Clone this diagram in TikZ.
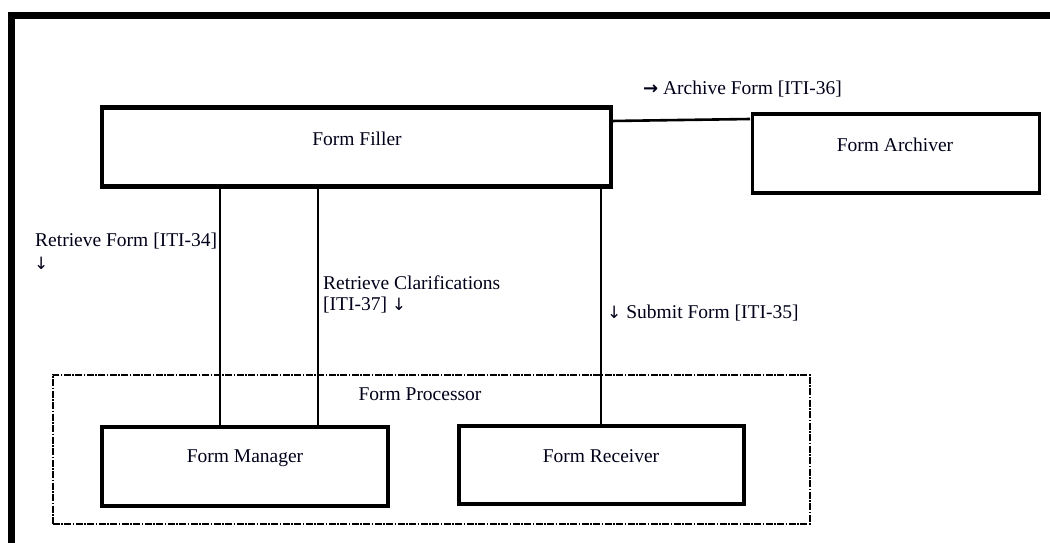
\documentclass[tikz,border=0pt]{standalone}
\usepackage{fontspec}
\setmainfont{Liberation Serif}
\newfontfamily\arrowfont{DejaVu Sans}
\newcommand{\dnarrow}{{\arrowfont\fontsize{17}{20}\selectfont ↓}}
\newcommand{\rtarrow}{{\arrowfont\bfseries\fontsize{18}{20}\selectfont →}}
\begin{document}
\begin{tikzpicture}[x=1pt,y=-1pt,
  txt/.style={font=\fontsize{19.5}{22}\selectfont, text=black!90!blue, inner sep=0pt},
  heavybox/.style={draw, line width=4.5pt, inner sep=0pt},
  midbox/.style={draw, line width=3.5pt, inner sep=0pt},
  conn/.style={line width=2.6pt},
  group/.style={draw, line width=2pt, dash pattern=on 7pt off 1.5pt on 1.5pt off 1.5pt}]
\useasboundingbox (0,0) rectangle (1050,542);
% outer frame (cut by the page)
\draw[line width=7pt] (11.5,560) -- (11.5,15.5) -- (1060,15.5);
% boxes
\node[heavybox, minimum width=509pt, minimum height=79pt] (ff) at (356.5,147) {};
\node[midbox, minimum width=287pt, minimum height=79pt] (fa) at (896,153.5) {};
\node[group, minimum width=757pt, minimum height=149pt] (fp) at (431,449) {};
\node[heavybox, minimum width=286pt, minimum height=79pt] (fm) at (245,466.5) {};
\node[heavybox, minimum width=285pt, minimum height=78pt] (fr) at (601.5,465) {};
% box texts
\node[txt] (tff) at (357,139) {Form Filler};
\node[txt] (tfa) at (895,145) {Form Archiver};
\node[txt] (tfp) at (420,394) {Form Processor};
\node[txt] (tfm) at (245,458) {Form Manager};
\node[txt] (tfr) at (601,456) {Form Receiver};
% connectors
\coordinate (ffr) at (611,121);
\coordinate (fal) at (750,119);
\draw[conn] (ffr) -- (fal);
\draw[conn] (ff.south -| 220,0) -- (fm.north -| 220,0);
\draw[conn] (ff.south -| 318,0) -- (fm.north -| 318,0);
\draw[conn] (ff.south -| 601,0) -- (fr.north -| 601,0);
% connector labels
\node[txt, anchor=west] (l36) at (643,89) {\rtarrow{} Archive Form [ITI-36]};
\node[txt, anchor=west] (l34a) at (35,241) {Retrieve Form [ITI-34]};
\node[txt, anchor=west] (l34b) at (34,263) {\dnarrow};
\node[txt, anchor=west] (l37a) at (323,283) {Retrieve Clarifications};
\node[txt, anchor=west] (l37b) at (323,305) {[ITI-37] \dnarrow};
\node[txt, anchor=west] (l35) at (607,313) {\dnarrow{} Submit Form [ITI-35]};
\end{tikzpicture}
\end{document}
